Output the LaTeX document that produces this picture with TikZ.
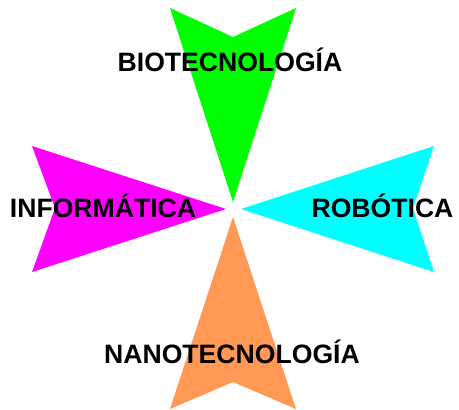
\documentclass[tikz,border=0pt]{standalone}
\usepackage{fontspec}
\setmainfont{Liberation Sans}
\usepackage{tikz}

\definecolor{verde}{RGB}{0,255,0}
\definecolor{magenta}{RGB}{255,0,255}
\definecolor{cian}{RGB}{0,255,255}
\definecolor{naranja}{RGB}{255,153,85}

\begin{document}
\begin{tikzpicture}
                     [x=1pt,y=-1pt,every node/.style={inner sep=0pt,anchor=base,
                      font=\fontsize{26.6}{30}\selectfont\bfseries}]
                     \useasboundingbox (0,0) rectangle (459,410);
                     % flechas
                     \fill[verde] (170,8) -- (233,37) -- (296,8) -- (233,202) -- cycle;
                     \fill[magenta] (32,146) -- (226,209) -- (32,272) -- (55,208) -- cycle;
                     \fill[cian] (434,146) -- (241,209) -- (434,272) -- (413,208) -- cycle;
                     \fill[naranja] (233,217) -- (296,409) -- (233,382) -- (170,409) -- cycle;
                     % textos
                     \node (bio) at (230,71.7) {BIOTECNOLOGÍA};
                     \node (inf) at (103,217.7) {INFORMÁTICA};
                     \node (rob) at (382.5,217.7) {ROBÓTICA};
                     \node (nano) at (232,363) {NANOTECNOLOGÍA};
                   \end{tikzpicture}
\end{document}
